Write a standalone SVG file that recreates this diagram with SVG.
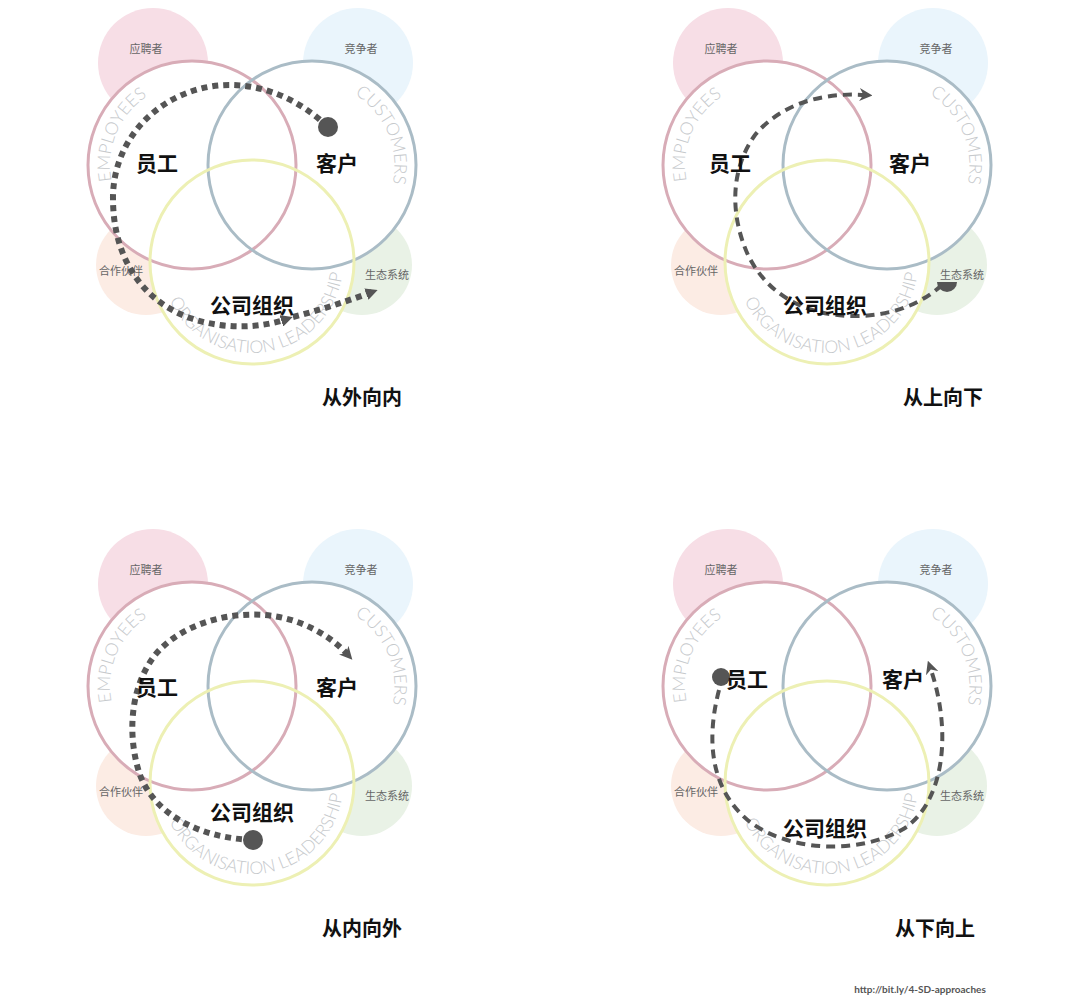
<svg xmlns="http://www.w3.org/2000/svg" xmlns:xlink="http://www.w3.org/1999/xlink" width="1080" height="1008" viewBox="0 0 1080 1008">
<style>
.bg{stroke:none}
.bgP{fill:#f7dee6}.bgB{fill:#eaf5fc}.bgO{fill:#fcece4}.bgG{fill:#e9f2e6}
.fillW{fill:#ffffff;stroke:none}
.ring{fill:none;stroke-width:3}
.rE{stroke:#d8acb7}.rC{stroke:#aabcc6}.rO{stroke:#edf0b4}
.sm{font-family:"Noto Sans CJK SC","Noto Sans",sans-serif;font-size:11px;fill:#666;text-anchor:middle}
.big{font-family:"Noto Sans CJK SC","Noto Sans",sans-serif;font-size:21px;font-weight:bold;fill:#111;text-anchor:middle}
.head{font-family:"Noto Sans CJK SC","Noto Sans",sans-serif;font-size:20px;font-weight:bold;fill:#111;text-anchor:middle}
.arc{font-family:Lato,"Liberation Sans",sans-serif;font-weight:300;font-size:17.5px;fill:#c6c9cc;text-anchor:middle}
.dots{fill:none;stroke:#555;stroke-width:6;stroke-dasharray:6 5}
.dash{fill:none;stroke:#555;stroke-width:4;stroke-dasharray:9 6}
.dot{fill:#555}
.url{font-family:Lato,"Liberation Sans",sans-serif;font-size:10px;font-weight:bold;fill:#555;text-anchor:middle}
</style>
<defs>
<path id="arcE" d="M160.0,240.5 A82,82 0 0 1 224.0,89.5"/>
<path id="arcC" d="M278.8,86.8 A85,85 0 0 1 345.2,243.2"/>
<path id="arcO" d="M162.1,276.2 A91,91 0 0 0 341.9,247.8"/>
<marker id="tri" viewBox="0 0 10 10" refX="5" refY="5" markerWidth="12" markerHeight="12" markerUnits="userSpaceOnUse" orient="auto"><path d="M0,0 L10,5 L0,10 z" fill="#555"/></marker>
<marker id="notch" viewBox="0 0 10 10" refX="5" refY="5" markerWidth="13" markerHeight="13" markerUnits="userSpaceOnUse" orient="auto"><path d="M0,0 L10,5 L0,10 L3,5 z" fill="#555"/></marker>
<g id="base">
<circle class="bg bgP" cx="153" cy="63" r="55"/>
<circle class="bg bgB" cx="358" cy="63" r="55"/>
<circle class="bg bgO" cx="146" cy="265" r="50"/>
<circle class="bg bgG" cx="362" cy="265" r="50"/>
<circle class="fillW" cx="192" cy="165" r="104"/>
<circle class="fillW" cx="312" cy="165" r="104"/>
<circle class="fillW" cx="252" cy="262" r="102"/>
<circle class="ring rE" cx="192" cy="165" r="104"/>
<circle class="ring rC" cx="312" cy="165" r="104"/>
<circle class="ring rO" cx="252" cy="262" r="102"/>
<text class="arc"><textPath href="#arcE" xlink:href="#arcE" startOffset="50%">EMPLOYEES</textPath></text>
<text class="arc"><textPath href="#arcC" xlink:href="#arcC" startOffset="50%">CUSTOMERS</textPath></text>
<text class="arc"><textPath href="#arcO" xlink:href="#arcO" startOffset="50%">ORGANISATION LEADERSHIP</textPath></text>
<text class="sm" x="146" y="53">应聘者</text>
<text class="sm" x="361" y="53">竞争者</text>
<text class="sm" x="121" y="275">合作伙伴</text>
<text class="sm" x="387" y="279">生态系统</text>
</g>
</defs>

<g id="panel-outside-in">
<g id="nodes-tl"><use href="#base" xlink:href="#base"/></g>
<g id="connectors-tl">
<path class="dots" d="M328,127 C300,100 265,85 230,85 C170,85 115,130 113,195 C112,255 140,300 190,318 C225,330 260,328 287,319" marker-end="url(#tri)"/>
<path class="dots" d="M293,317 C320,310 345,302 372,292" marker-end="url(#tri)"/>
<circle class="dot" cx="328" cy="127" r="10"/>
</g>
<g id="labels-tl">
<text class="big" x="157" y="171">员工</text>
<text class="big" x="337" y="171">客户</text>
<text class="big" x="252" y="313">公司组织</text>
</g>
<text class="head" x="362" y="405">从外向内</text>
</g>

<g id="panel-top-down">
<g id="nodes-tr" transform="translate(575,0)"><use href="#base" xlink:href="#base"/></g>
<g id="connectors-tr">
<path class="dash" d="M942,285 C920,305 890,316 855,316 C800,316 765,290 748,255 C730,215 730,170 755,135 C780,105 820,92 866,95" marker-end="url(#notch)"/>
<path class="dot" d="M937,282 A10,10 0 0 0 957,282 Z"/>
</g>
<g id="labels-tr" transform="translate(575,0)">
<text class="big" x="155" y="171">员工</text>
<text class="big" x="335" y="171">客户</text>
<text class="big" x="250" y="313">公司组织</text>
</g>
<text class="head" x="943" y="405">从上向下</text>
</g>

<g id="panel-inside-out">
<g id="nodes-bl" transform="translate(0,521)"><use href="#base" xlink:href="#base"/></g>
<g id="connectors-bl">
<path class="dots" d="M253,840 C200,838 155,815 140,775 C128,740 128,690 155,655 C180,625 225,612 265,615 C300,618 330,635 348,655" marker-end="url(#notch)"/>
<circle class="dot" cx="253" cy="840" r="10"/>
</g>
<g id="labels-bl" transform="translate(0,521)">
<text class="big" x="157" y="174">员工</text>
<text class="big" x="337" y="174">客户</text>
<text class="big" x="252" y="299">公司组织</text>
</g>
<text class="head" x="362" y="936">从内向外</text>
</g>

<g id="panel-bottom-up">
<g id="nodes-br" transform="translate(575,521)"><use href="#base" xlink:href="#base"/></g>
<g id="connectors-br">
<path class="dash" d="M719,690 C706,740 710,790 750,822 C790,852 860,855 905,828 C945,800 952,730 930,667" marker-end="url(#notch)"/>
<circle class="dot" cx="721" cy="677" r="9"/>
</g>
<g id="labels-br" transform="translate(575,521)">
<text class="big" x="172" y="166">员工</text>
<text class="big" x="328" y="166">客户</text>
<text class="big" x="250" y="315">公司组织</text>
</g>
<text class="head" x="935" y="936">从下向上</text>
</g>

<text class="url" x="920" y="993">http://bit.ly/4-SD-approaches</text>
</svg>
